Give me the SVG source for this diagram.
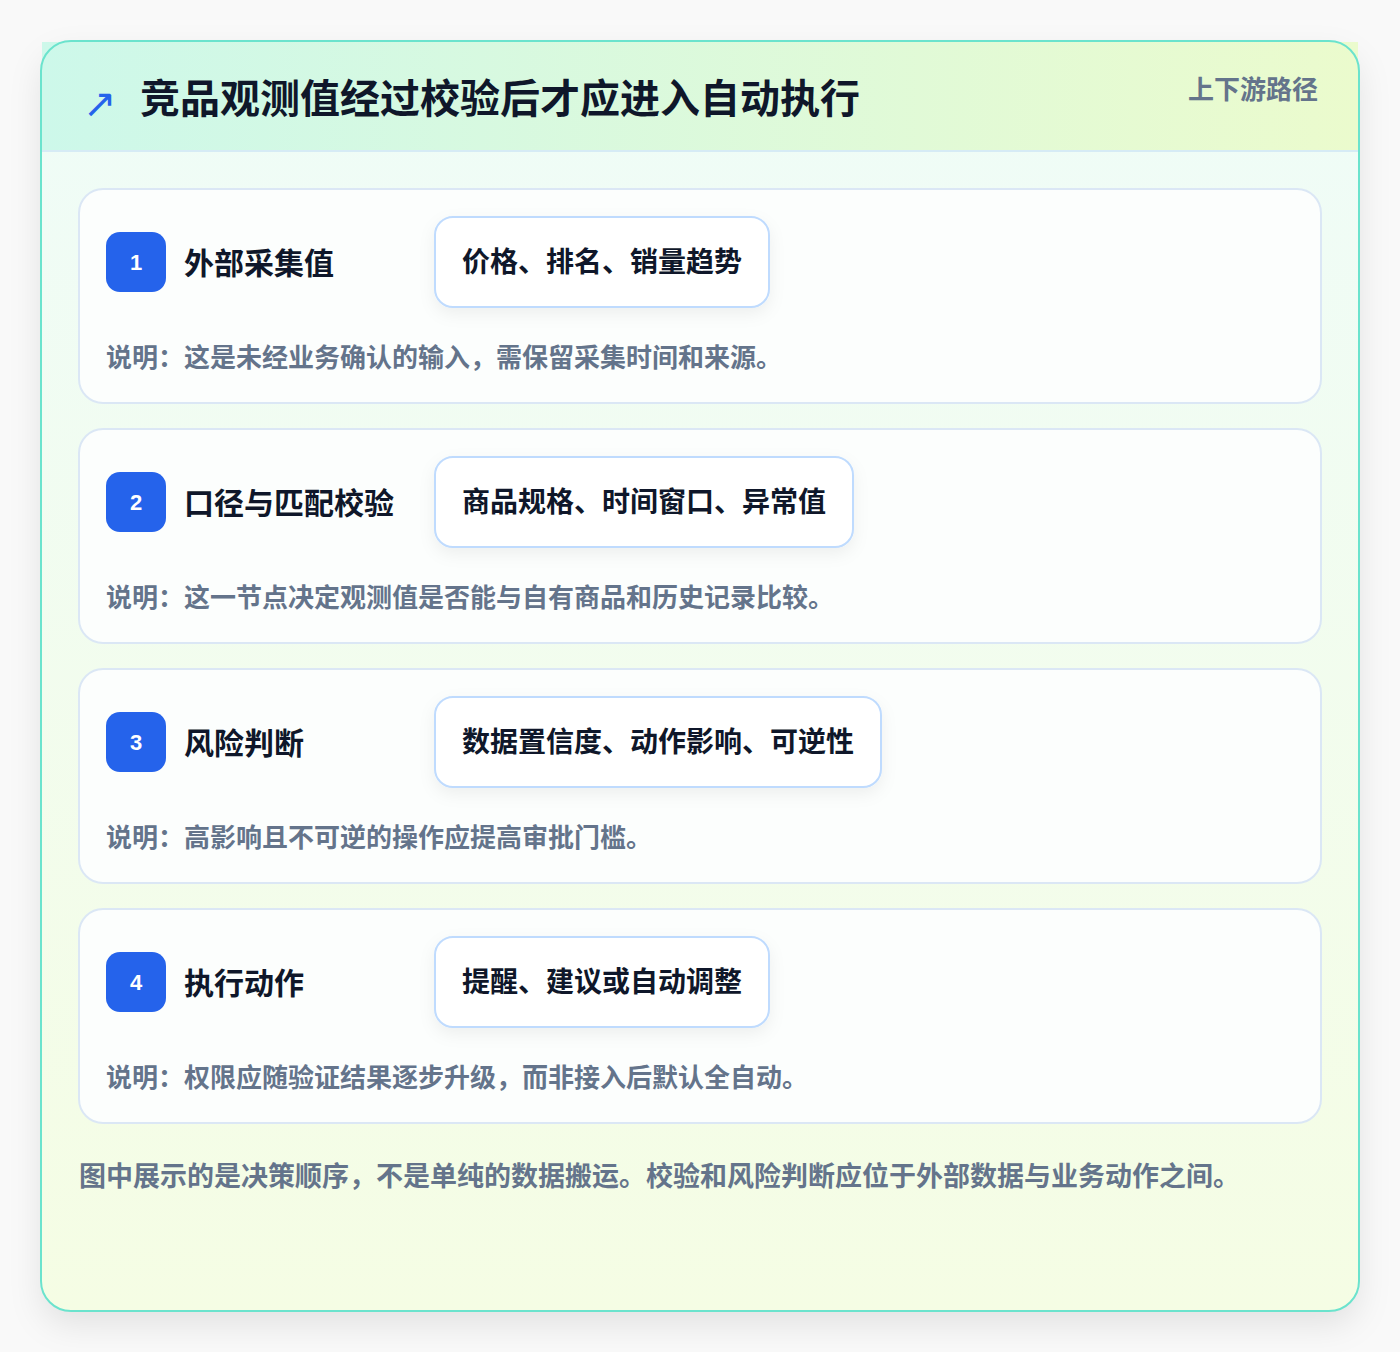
<svg xmlns="http://www.w3.org/2000/svg" width="1400" height="1352" viewBox="0 0 1400 1352">
<defs>
<style>
text{font-family:"Noto Sans CJK SC","Liberation Sans",sans-serif;font-weight:700}
.title{font-size:40px;fill:#0f172a}
.tag{font-size:26px;fill:#64748b}
.step{fill:#fcfefd;stroke:#dbe7f5;stroke-width:2}
.badge{fill:#2563eb}
.num{font-size:22px;fill:#ffffff;font-family:"Liberation Sans","Noto Sans CJK SC",sans-serif}
.label{font-size:30px;fill:#0f172a}
.chip{fill:#ffffff;stroke:#bfdbfe;stroke-width:2}
.chiptext{font-size:28px;fill:#0f172a}
.desc{font-size:26px;fill:#64748b}
.foot{font-size:27px;fill:#64748b}
</style>
<linearGradient id="bodyGrad" x1="0" y1="0" x2="0" y2="1">
<stop offset="0" stop-color="#effcf8"/>
<stop offset="1" stop-color="#f5fde4"/>
</linearGradient>
<linearGradient id="headGrad" x1="0" y1="0" x2="1" y2="0">
<stop offset="0" stop-color="#cdf8ea"/>
<stop offset="1" stop-color="#ebfbcd"/>
</linearGradient>
<filter id="cardShadow" x="-10%" y="-10%" width="120%" height="120%">
<feDropShadow dx="0" dy="14" stdDeviation="16" flood-color="#000000" flood-opacity="0.09"/>
</filter>
<filter id="chipShadow" x="-20%" y="-40%" width="140%" height="180%">
<feDropShadow dx="0" dy="6" stdDeviation="8" flood-color="#0f172a" flood-opacity="0.06"/>
</filter>
</defs>
<rect x="0" y="0" width="1400" height="1352" fill="#f9f9f9"/>
<g id="card">
<rect x="41" y="41" width="1318" height="1270" rx="30" fill="url(#bodyGrad)" filter="url(#cardShadow)"/>
<rect x="42" y="42" width="1316" height="109" fill="url(#headGrad)"/>
<line x1="42" y1="151" x2="1358" y2="151" stroke="#d6ebf5" stroke-width="2"/>
<rect x="41" y="41" width="1318" height="1270" rx="30" fill="none" stroke="#6be3cd" stroke-width="2"/>
<text x="83" y="117" style="font-size:40px;fill:#2563eb;font-family:'DejaVu Sans',sans-serif;font-weight:400">↗</text>
<text class="title" x="140" y="113">竞品观测值经过校验后才应进入自动执行</text>
<text class="tag" x="1318" y="99" text-anchor="end">上下游路径</text>
</g>
<g id="step1">
<rect class="step" x="79" y="189" width="1242" height="214" rx="24"/>
<rect class="badge" x="106" y="232" width="60" height="60" rx="14"/>
<text class="num" x="136" y="270" text-anchor="middle">1</text>
<text class="label" x="184" y="274">外部采集值</text>
<rect class="chip" x="435" y="217" width="334" height="90" rx="18" filter="url(#chipShadow)"/>
<text class="chiptext" x="462" y="272">价格、排名、销量趋势</text>
<text class="desc" x="106" y="367">说明：这是未经业务确认的输入，需保留采集时间和来源。</text>
</g>
<g id="step2">
<rect class="step" x="79" y="429" width="1242" height="214" rx="24"/>
<rect class="badge" x="106" y="472" width="60" height="60" rx="14"/>
<text class="num" x="136" y="510" text-anchor="middle">2</text>
<text class="label" x="184" y="514">口径与匹配校验</text>
<rect class="chip" x="435" y="457" width="418" height="90" rx="18" filter="url(#chipShadow)"/>
<text class="chiptext" x="462" y="512">商品规格、时间窗口、异常值</text>
<text class="desc" x="106" y="607">说明：这一节点决定观测值是否能与自有商品和历史记录比较。</text>
</g>
<g id="step3">
<rect class="step" x="79" y="669" width="1242" height="214" rx="24"/>
<rect class="badge" x="106" y="712" width="60" height="60" rx="14"/>
<text class="num" x="136" y="750" text-anchor="middle">3</text>
<text class="label" x="184" y="754">风险判断</text>
<rect class="chip" x="435" y="697" width="446" height="90" rx="18" filter="url(#chipShadow)"/>
<text class="chiptext" x="462" y="752">数据置信度、动作影响、可逆性</text>
<text class="desc" x="106" y="847">说明：高影响且不可逆的操作应提高审批门槛。</text>
</g>
<g id="step4">
<rect class="step" x="79" y="909" width="1242" height="214" rx="24"/>
<rect class="badge" x="106" y="952" width="60" height="60" rx="14"/>
<text class="num" x="136" y="990" text-anchor="middle">4</text>
<text class="label" x="184" y="994">执行动作</text>
<rect class="chip" x="435" y="937" width="334" height="90" rx="18" filter="url(#chipShadow)"/>
<text class="chiptext" x="462" y="992">提醒、建议或自动调整</text>
<text class="desc" x="106" y="1087">说明：权限应随验证结果逐步升级，而非接入后默认全自动。</text>
</g>
<g id="connectors"></g>
<text class="foot" x="79" y="1186">图中展示的是决策顺序，不是单纯的数据搬运。校验和风险判断应位于外部数据与业务动作之间。</text>
</svg>
